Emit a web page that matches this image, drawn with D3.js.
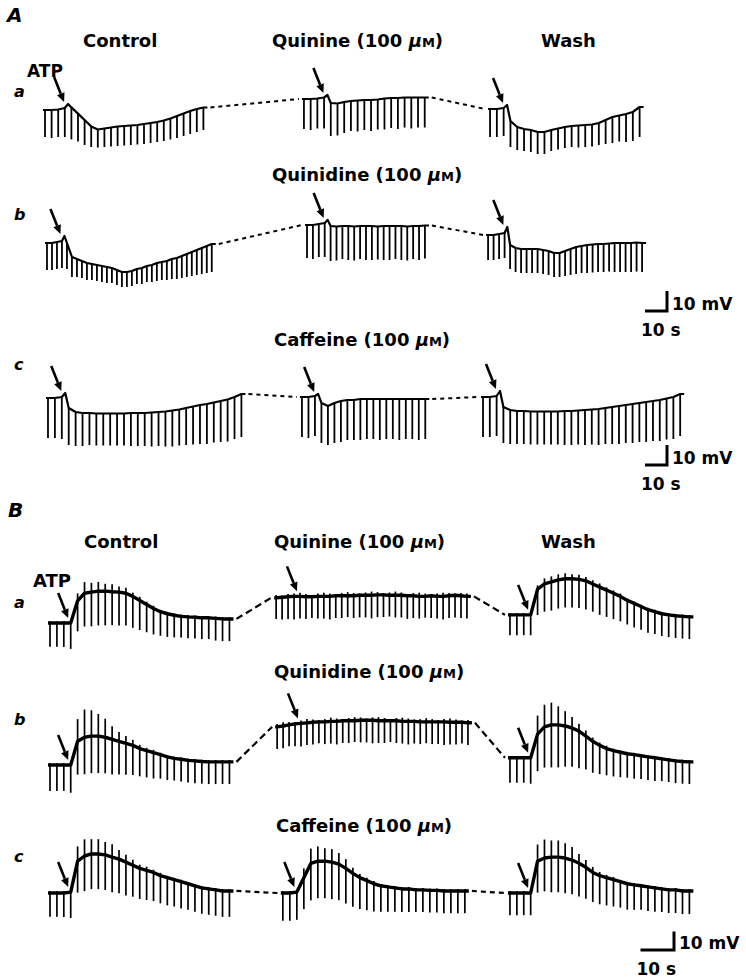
<!DOCTYPE html>
<html>
<head>
<meta charset="utf-8">
<script src="https://cdn.jsdelivr.net/npm/d3@7"></script>
<style>
  body { margin: 0; background: #fff; }
  svg text { font-family: "DejaVu Sans", sans-serif; font-weight: bold; fill: #000; }
</style>
</head>
<body>
<div id="fig"></div>
<script>
// values: time in s, membrane potential in mV relative to the row's resting level
// base = level at each current pulse, pulse = downward deflection, spike = upward spike

// ---- A, row a ----
const AaStart = [0, 117.7, 202.3];
const AaStep = [3.0, 3.05, 3.09];
const AaAtp = [3, 3, 2];
const AaPeak = [3, 7.5, 2.5];
const AaCtrlBase = [0, 0, 0.25, 1, 1.3, -1.8, -5, -8.2, -9.75, -9.25, -8.75, -8.25, -8, -7.75, -7.5, -7, -6.5, -6, -5.25, -4.25, -3, -1.75, -0.5, 0.5, 1.25];
const AaCtrlPulse = [13.5, 14, 13.75, 14.5, 16, 14, 12.5, 10.3, 9, 9.25, 9.5, 9.75, 9.75, 9.75, 9.75, 10, 10, 10, 10.25, 10.5, 11, 11.25, 11.5, 11.5, 11.25];
const AaDrugBase = [5.5, 5.5, 5.75, 6.25, 3.5, 3.25, 4, 4.5, 4.75, 5, 5, 5.25, 5.75, 6, 6, 6.25, 6.25, 6.25, 6.25];
const AaDrugPulse = [15, 15.5, 15, 15.5, 16.5, 16, 15.5, 15, 15.5, 15, 15.5, 15, 15.5, 15, 15.5, 15, 15.5, 15, 15];
const AaWashBase = [0.5, 0.5, 1, -5.5, -8.5, -9.5, -10, -11, -11, -10, -9.25, -8.5, -8, -7.75, -7.5, -7.25, -6.5, -5, -3.5, -2.75, -2, -1, 1.5];
const AaWashPulse = [14, 14, 14, 13, 11.5, 11, 11, 11, 11, 10.5, 10.5, 10.5, 10.5, 11, 11, 11, 11, 12, 13, 13, 14, 14.5, 15];

// ---- A, row b ----
const AbStart = [0.9, 119.1, 201.4];
const AbStep = [2.27, 2.68, 2.5];
const AbAtp = [3, 3, 3];
const AbPeak = [3.5, 11.5, 8];
const AbCtrlBase = [0, 0, 0.5, 1, 0, -7, -8, -9, -10, -10.5, -11, -11.5, -12, -12.5, -13.5, -14.5, -14.5, -14, -13, -12.5, -11.5, -11, -10, -9.5, -9, -8, -7.5, -6.5, -5.5, -4.5, -3.5, -2.5, -1.5, -0.5];
const AbCtrlPulse = [13.5, 13.5, 13.5, 13.5, 13, 10, 9, 8.5, 8.5, 8, 8, 8, 8, 7.5, 7.5, 7.5, 7.5, 7.5, 7.5, 8, 8, 8.5, 9, 9, 9.5, 10, 10.5, 11, 11.5, 12, 12.5, 13, 13.5, 14];
const AbDrugBase = [9, 9, 9.5, 10, 8.5, 8.25, 8.5, 8.5, 8.25, 8.5, 8.5, 8.5, 8.25, 8.5, 8.5, 8.5, 8.5, 8.25, 8.5, 8.5, 8.75];
const AbDrugPulse = [16.5, 17, 16.5, 17, 17.5, 17, 16.5, 17, 17, 16.5, 17, 17, 16.5, 17, 17, 16.5, 17, 17, 16.5, 17, 16.5];
const AbWashBase = [4, 4, 4.5, 5, -1, -2.5, -3, -3, -3, -3, -3.5, -4, -5, -5, -4, -3, -2, -1.5, -1, -0.75, -0.5, -0.5, -0.25, 0, 0, 0, 0, 0.25, 0];
const AbWashPulse = [12.5, 12.5, 12.5, 12.5, 12, 12, 12, 12, 12, 12, 12, 12, 12, 12, 12.5, 13, 13.5, 13.5, 14, 14, 14, 14, 14, 14.5, 14.5, 14.5, 14.5, 14.5, 14.5];

// ---- A, row c ----
const AcStart = [1.36, 116.8, 199.1];
const AcStep = [3.14, 2.95, 3.09];
const AcAtp = [2, 2, 2];
const AcPeak = [2.5, 2, 3.5];
const AcCtrlBase = [0, 0, 0.5, -5, -7, -7.5, -7.5, -7.75, -7.75, -7.75, -7.75, -7.75, -7.5, -7.5, -7.5, -7.25, -7, -6.75, -6.25, -5.75, -5, -4.25, -3.5, -3, -2.25, -1.5, -0.75, 0.5, 2];
const AcCtrlPulse = [20, 20, 21, 18.5, 17, 16.5, 16, 16, 16, 16, 16, 16, 16.5, 16.5, 16.5, 17, 17, 17.5, 18, 18, 18.5, 19, 19.5, 20, 20, 20.5, 21, 21, 21.5];
const AcDrugBase = [0.5, 0.5, 1, -2.5, -4, -2.5, -1.5, -1, -1, -0.5, -0.5, -0.5, -0.5, -0.5, -0.5, -0.5, -0.5, -0.5, -0.5, -0.5];
const AcDrugPulse = [20, 20.5, 20, 20, 19.5, 20, 20.5, 20, 20, 20.5, 20, 20, 20.5, 20, 20, 20.5, 20, 20, 20.5, 20];
const AcWashBase = [0.5, 0.5, 1, -4.5, -6, -6.5, -6.5, -6.75, -6.75, -6.75, -6.75, -6.75, -6.5, -6.5, -6.25, -6, -5.75, -5.5, -5, -4.5, -4, -3.5, -3, -2.5, -2, -1.5, -1, -0.25, 0.5, 2];
const AcWashPulse = [20, 20, 20, 18, 17, 16.5, 16.5, 16.5, 16.5, 16.5, 16.5, 16.5, 17, 17, 17, 17.5, 17.5, 18, 18, 18.5, 19, 19, 19.5, 19.5, 20, 20, 20.5, 20.5, 21, 21];

// ---- B, row a ----
const BaStart = [0.6, 68.1, 137.9];
const BaStep = [2.06, 1.78, 2.06];
const BaAtp = [3, 4, 3];
const BaCtrlBase = [0, 0, 0, 0, 12, 16.1, 16.7, 17.2, 17.2, 16.9, 16.7, 16.1, 14.4, 12.2, 10, 7.8, 6.1, 5, 4.2, 3.6, 3.3, 3.1, 2.8, 2.8, 2.5, 2.2, 2.2];
const BaCtrlPulse = [12.8, 12.8, 13, 14, 16.5, 18, 18.5, 18.5, 18.5, 18, 18, 17.5, 17, 16, 15, 14, 13, 12.5, 12, 11.5, 11.5, 11.5, 11.5, 11.5, 12, 12, 12];
const BaCtrlSpike = [1, 1, 1, 1, 4, 6, 5, 5, 4, 4, 3, 3, 2, 2, 1.5, 1.5, 1, 1, 1, 1, 1, 1, 1, 1, 1, 1, 1];
const BaDrugBase = [13.6, 13.9, 14.2, 14.4, 14.4, 14.2, 14.2, 14.4, 14.4, 14.4, 14.7, 14.7, 14.7, 14.7, 15, 15, 15, 15.2, 15.2, 15, 15, 15, 14.7, 14.7, 14.4, 14.4, 14.7, 14.4, 14.4, 14.7, 15, 14.7, 14.4];
const BaDrugPulse = [11.5, 12, 12, 12.5, 12, 12, 11.5, 12, 12, 12.5, 12, 12, 11.5, 12, 12, 12, 12.5, 12, 12, 11.5, 12, 12, 12.5, 12, 12, 11.5, 12, 12, 12.5, 12, 12, 12, 12];
const BaDrugSpike = [1.5, 1, 1.5, 1.5, 2, 1.5, 1, 1.5, 2, 1.5, 1, 1.5, 2, 1.5, 1, 1.5, 2, 1.5, 1, 1.5, 2, 1.5, 1, 1.5, 2, 1.5, 1, 1.5, 2, 1.5, 1, 1.5, 1.5];
const BaWashBase = [4.4, 4.4, 4.4, 4.4, 18.3, 21.1, 22.2, 23.3, 23.9, 23.9, 23.6, 22.8, 21.1, 19.4, 17.8, 16.1, 14.4, 12.2, 10.6, 8.9, 7.2, 6.1, 5, 4.4, 3.9, 3.6, 3.3];
const BaWashPulse = [11, 11, 11, 11, 14, 15, 15.5, 15.5, 15.5, 15.5, 15.5, 15.5, 15, 15, 14.5, 14, 13.5, 13, 13, 12.5, 12.5, 12, 12, 12, 12, 12, 12];
const BaWashSpike = [1, 1, 1, 1, 2, 3, 3, 3, 3, 2.5, 2.5, 2, 2, 2, 1.5, 1.5, 1.5, 1, 1, 1, 1, 1, 1, 1, 1, 1, 1];

// ---- B, row b ----
const BbStart = [0.6, 68.4, 137.9];
const BbStep = [2.06, 1.78, 2.06];
const BbAtp = [3, 4, 3];
const BbCtrlBase = [0, 0, 0, 0, 12.8, 15, 15.6, 15.6, 15, 13.9, 12.8, 11.7, 10.6, 8.9, 7.8, 6.7, 5.6, 4.4, 3.6, 3.1, 2.5, 2.2, 1.9, 1.7, 1.7, 1.7, 1.7];
const BbCtrlPulse = [14, 14, 14, 15, 18, 20, 20, 20, 19.5, 19, 18, 17, 16, 15, 14.5, 14, 13, 12.5, 12, 12, 12, 12, 12, 12, 12, 12, 12];
const BbCtrlSpike = [1, 1, 1, 1, 12, 15, 14, 12, 10, 7, 5, 4, 3, 2, 1.5, 1.5, 1, 1, 1, 1, 1, 1, 1, 1, 1, 1, 1];
const BbDrugBase = [20.6, 21.1, 21.7, 22.2, 22.5, 22.8, 23.1, 23.3, 23.3, 23.6, 23.6, 23.9, 23.9, 23.9, 24.2, 24.2, 24.2, 23.9, 23.9, 23.9, 23.9, 23.6, 23.6, 23.6, 23.3, 23.3, 23.3, 23.3, 23.3, 23.1, 23.1, 23.1, 22.8];
const BbDrugPulse = [12, 12, 11.5, 12, 12.5, 12, 12, 11.5, 12, 12, 12.5, 12, 12, 11.5, 12, 12, 12.5, 12, 12, 11.5, 12, 12, 12.5, 12, 12, 11.5, 12, 12, 12.5, 12, 12, 11.5, 12];
const BbDrugSpike = [1.5, 2, 1.5, 1, 1.5, 2, 1.5, 1, 1.5, 2, 1.5, 1, 1.5, 2, 1.5, 1, 1.5, 2, 1.5, 1, 1.5, 2, 1.5, 1, 1.5, 2, 1.5, 1, 1.5, 2, 1.5, 1, 1.5];
const BbWashBase = [3.9, 3.9, 3.9, 3.9, 16.7, 20.6, 21.7, 21.7, 21.1, 20, 18.3, 15.6, 12.8, 10.6, 8.9, 7.8, 6.9, 6.1, 5.6, 5, 4.4, 3.9, 3.3, 2.8, 2.2, 1.9, 1.7];
const BbWashPulse = [13.5, 13.5, 13.5, 14, 20, 22, 23, 23, 22, 21, 20, 18, 17, 15.5, 14.5, 14, 13.5, 13, 13, 12.5, 12.5, 12.5, 12, 12, 12, 12, 12];
const BbWashSpike = [1, 1, 1, 1, 10, 12, 12, 10, 8, 6, 4, 3, 2, 1.5, 1.5, 1, 1, 1, 1, 1, 1, 1, 1, 1, 1, 1, 1];

// ---- B, row c ----
const BcStart = [0.6, 70.1, 137.9];
const BcStep = [2.06, 2.09, 2.06];
const BcAtp = [3, 2, 3];
const BcCtrlBase = [0, 0, 0, 0.5, 17.2, 20, 21.1, 21.1, 20.6, 19.4, 18.3, 16.7, 15, 13.3, 12.2, 11.1, 9.4, 8.3, 7.2, 6.1, 5, 3.9, 2.8, 2.2, 1.7, 1.1, 1.1];
const BcCtrlPulse = [12.8, 12.8, 13, 14, 17, 19, 19, 19, 19, 19, 18.5, 18, 17, 16.5, 16, 15.5, 15, 15, 14.5, 14.5, 14, 14, 14, 14, 14, 14, 14];
const BcCtrlSpike = [1, 1, 1, 1, 8, 9, 8, 8, 7, 7, 5, 4, 3, 2, 2, 1.5, 1.5, 1, 1, 1, 1, 1, 1, 1, 1, 1, 1];
const BcDrugBase = [0, 0, 0.5, 8.3, 16, 17.2, 17.2, 16.7, 15.6, 13.3, 10.6, 8.3, 6.7, 5, 3.9, 3.3, 2.8, 2.2, 2.2, 1.7, 1.7, 1.4, 1.4, 1.1, 1.1, 1.1, 1.1];
const BcDrugPulse = [15, 15, 15, 17, 20, 20, 20, 20, 19.5, 19, 18, 17, 16, 15, 14, 13.5, 13, 12.5, 12.5, 12, 12, 12, 12, 12, 12, 12, 12];
const BcDrugSpike = [1, 1, 1, 5, 8, 8, 7, 7, 6, 5, 3, 2, 1.5, 1.5, 1, 1, 1, 1, 1, 1, 1, 1, 1, 1, 1, 1, 1];
const BcWashBase = [0, 0, 0, 0, 17.2, 18.9, 19.4, 19.4, 18.9, 17.8, 16.1, 13.9, 11.1, 9.4, 8.3, 7.2, 6.1, 5, 4.4, 3.9, 3.3, 2.8, 2.2, 1.7, 1.7, 1.1, 1.1];
const BcWashPulse = [12, 12, 12, 12, 17, 18, 19, 19, 19, 18.5, 18, 17, 16, 15.5, 15, 14.5, 14, 14, 13.5, 13, 13, 13, 12.5, 12.5, 12.5, 12.5, 12.5];
const BcWashSpike = [1, 1, 1, 1, 9, 10, 9, 9, 8, 7, 5, 4, 3, 2, 1.5, 1.5, 1, 1, 1, 1, 1, 1, 1, 1, 1, 1, 1];

// labels
const columnTitles = ['Control', 'Quinine', 'Wash'];
const drugsA = ['Quinine', 'Quinidine', 'Caffeine'];
const drugsB = ['Quinine', 'Quinidine', 'Caffeine'];
const scaleBar = { s: 10, mV: 10 };

// ---------- layout ----------
const svg = d3.select('#fig').append('svg')
  .attr('width', 746).attr('height', 978);

// 10 s = 22 px in A, 33.5 px in B
const xA = d3.scaleLinear().domain([0, 10]).range([45, 67]);
const xB = d3.scaleLinear().domain([0, 10]).range([48, 81.5]);
const kA = 2, kB = 1.85; // px per mV

const rowsA = [
  { lab: 'a', y0: 110, labY: 97, start: AaStart, step: AaStep, atp: AaAtp, peak: AaPeak,
    base: [AaCtrlBase, AaDrugBase, AaWashBase], pulse: [AaCtrlPulse, AaDrugPulse, AaWashPulse] },
  { lab: 'b', y0: 243, labY: 220, start: AbStart, step: AbStep, atp: AbAtp, peak: AbPeak,
    base: [AbCtrlBase, AbDrugBase, AbWashBase], pulse: [AbCtrlPulse, AbDrugPulse, AbWashPulse] },
  { lab: 'c', y0: 398, labY: 370, start: AcStart, step: AcStep, atp: AcAtp, peak: AcPeak,
    base: [AcCtrlBase, AcDrugBase, AcWashBase], pulse: [AcCtrlPulse, AcDrugPulse, AcWashPulse] }
];
const rowsB = [
  { lab: 'a', y0: 623, labY: 608, start: BaStart, step: BaStep, atp: BaAtp, dash: '7,4',
    base: [BaCtrlBase, BaDrugBase, BaWashBase], pulse: [BaCtrlPulse, BaDrugPulse, BaWashPulse],
    spike: [BaCtrlSpike, BaDrugSpike, BaWashSpike] },
  { lab: 'b', y0: 765, labY: 725, start: BbStart, step: BbStep, atp: BbAtp, dash: '7,4',
    base: [BbCtrlBase, BbDrugBase, BbWashBase], pulse: [BbCtrlPulse, BbDrugPulse, BbWashPulse],
    spike: [BbCtrlSpike, BbDrugSpike, BbWashSpike] },
  { lab: 'c', y0: 893, labY: 862, start: BcStart, step: BcStep, atp: BcAtp, dash: '5,4',
    base: [BcCtrlBase, BcDrugBase, BcWashBase], pulse: [BcCtrlPulse, BcDrugPulse, BcWashPulse],
    spike: [BcCtrlSpike, BcDrugSpike, BcWashSpike] }
];

function arrow(g, tx, ty) {
  const dx = 10, dy = 25, L = Math.hypot(dx, dy), ux = dx / L, uy = dy / L;
  const hx = tx - ux * 9, hy = ty - uy * 9;
  g.append('line')
    .attr('x1', tx - dx).attr('y1', ty - dy).attr('x2', hx).attr('y2', hy)
    .attr('stroke', '#000').attr('stroke-width', 2.6);
  g.append('path')
    .attr('d', `M${tx},${ty}L${hx - uy * 4},${hy + ux * 4}L${hx + uy * 4},${hy - ux * 4}Z`)
    .attr('fill', '#000');
}

function drawRow(r, x, k, st) {
  const y = d3.scaleLinear().domain([0, 10]).range([r.y0, r.y0 - 10 * k]);
  const g = svg.append('g');
  const ends = [];
  r.base.forEach((base, s) => {
    const xs = base.map((v, i) => x(r.start[s] + i * r.step[s]));
    const a = r.atp[s];
    const pts = base.map((v, i) => [xs[i], y(v)]);
    if (r.peak) pts.splice(a + 1, 0, [(xs[a] + xs[a + 1]) / 2, y(r.peak[s])]);
    const first = [xs[0] - 2, y(base[0])];
    const last = [xs[xs.length - 1] + 4, y(base[base.length - 1])];
    const spike = r.spike ? r.spike[s] : null;

    g.selectAll(null).data(base).join('line')
      .attr('x1', (v, i) => xs[i]).attr('x2', (v, i) => xs[i])
      .attr('y1', (v, i) => y(v + (spike ? spike[i] : 0)))
      .attr('y2', (v, i) => y(v - r.pulse[s][i]))
      .attr('stroke', '#000').attr('stroke-width', st.pulse);

    g.append('path')
      .attr('d', d3.line()([first, ...pts, last]))
      .attr('fill', 'none').attr('stroke', '#000')
      .attr('stroke-width', st.trace).attr('stroke-linejoin', 'round');

    const mid = (xs[a] + xs[a + 1]) / 2;
    const tipY = r.peak ? y(r.peak[s]) - 2 : y(base[a]) - 5;
    arrow(g, mid - st.arrowDx, tipY);
    ends.push([first, last]);
  });
  for (let s = 0; s < ends.length - 1; s++) {
    g.append('path')
      .attr('d', d3.line()([[ends[s][1][0] + 3, ends[s][1][1]], [ends[s + 1][0][0] - 3, ends[s + 1][0][1]]]))
      .attr('fill', 'none').attr('stroke', '#000')
      .attr('stroke-width', st.dashW).attr('stroke-dasharray', r.dash || st.dash);
  }
  svg.append('text').attr('x', 14).attr('y', r.labY)
    .attr('font-size', 16).attr('font-style', 'italic').text(r.lab);
}

function drugLabel(x, y, name) {
  const t = svg.append('text').attr('x', x).attr('y', y).attr('font-size', 18);
  t.append('tspan').text(name + ' (100 ');
  t.append('tspan').attr('font-style', 'italic').text('μ');
  t.append('tspan').attr('font-size', 13).text('M');
  t.append('tspan').text(')');
}

function bar(cx, cy, x, k) {
  const w = x(scaleBar.s) - x(0), h = scaleBar.mV * k;
  svg.append('path')
    .attr('d', `M${cx - w},${cy}H${cx}V${cy - h}`)
    .attr('fill', 'none').attr('stroke', '#000').attr('stroke-width', 3);
  svg.append('text').attr('x', cx + 5).attr('y', cy - 1).attr('font-size', 17).text(scaleBar.mV + ' mV');
  svg.append('text').attr('x', cx - w - 4).attr('y', cy + 25).attr('font-size', 17).text(scaleBar.s + ' s');
}

// panel letters
svg.append('text').attr('x', 7).attr('y', 22).attr('font-size', 20).attr('font-style', 'italic').text('A');
svg.append('text').attr('x', 8).attr('y', 517).attr('font-size', 20).attr('font-style', 'italic').text('B');

// column headers
svg.append('text').attr('x', 83).attr('y', 47).attr('font-size', 18).text(columnTitles[0]);
drugLabel(272, 47, columnTitles[1]);
svg.append('text').attr('x', 541).attr('y', 47).attr('font-size', 18).text(columnTitles[2]);
drugLabel(272, 181, drugsA[1]);
drugLabel(274, 346, drugsA[2]);

svg.append('text').attr('x', 84).attr('y', 548).attr('font-size', 18).text(columnTitles[0]);
drugLabel(274, 548, drugsB[0]);
svg.append('text').attr('x', 541).attr('y', 548).attr('font-size', 18).text(columnTitles[2]);
drugLabel(274, 678, drugsB[1]);
drugLabel(276, 832, drugsB[2]);

svg.append('text').attr('x', 27).attr('y', 77).attr('font-size', 17).text('ATP');
svg.append('text').attr('x', 33).attr('y', 587).attr('font-size', 18).text('ATP');

rowsA.forEach(r => drawRow(r, xA, kA, { pulse: 1.8, trace: 2.2, arrowDx: 4, dash: '4,4', dashW: 2 }));
rowsB.forEach(r => drawRow(r, xB, kB, { pulse: 1.7, trace: 3.4, arrowDx: 6, dashW: 2.2 }));

bar(667, 311, xA, kA);
bar(667, 465, xA, kA);
bar(674, 950, xB, kB);
</script>
</body>
</html>
